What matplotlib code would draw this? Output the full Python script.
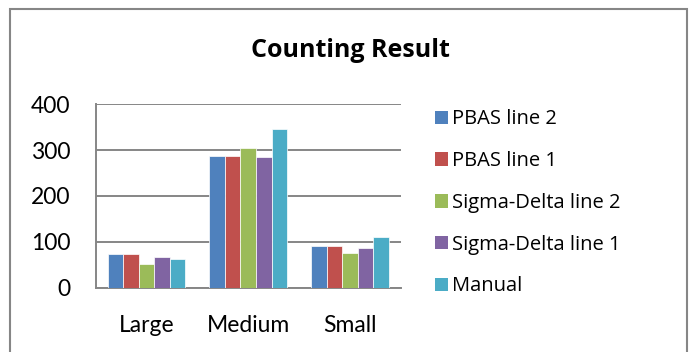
import matplotlib
matplotlib.use("Agg")
import matplotlib.pyplot as plt
import numpy as np
from matplotlib.patches import Rectangle, Patch

categories = ["Large", "Medium", "Small"]
series_names = ["PBAS line 2", "PBAS line 1", "Sigma-Delta line 2", "Sigma-Delta line 1", "Manual"]
pbas_line2 = [73, 288, 90]
pbas_line1 = [73, 288, 90]
sigma_line2 = [51, 305, 76]
sigma_line1 = [68, 286, 87]
manual = [62, 347, 110]
series_values = [pbas_line2, pbas_line1, sigma_line2, sigma_line1, manual]
colors = ["#4F81BD", "#C0504D", "#9BBB59", "#8064A2", "#4BACC6"]
y_ticks = [0, 100, 200, 300, 400]

fig = plt.figure(figsize=(6.92, 3.52), dpi=100)
ax = fig.add_axes([0.1383, 0.1827, 0.4408, 0.521])

x = np.arange(len(categories))
bw = 0.153
for i, (vals, c) in enumerate(zip(series_values, colors)):
    ax.bar(x + (i - 2) * bw, vals, width=bw, color=c, edgecolor="white", linewidth=0.5, zorder=3)

ax.set_xlim(-0.5, 2.5)
ax.set_ylim(0, 400)
ax.set_yticks(y_ticks)
ax.set_xticks(x)
ax.set_xticklabels(categories)
ax.grid(axis="y", color="#868686", linewidth=1.4, zorder=0)
for s in ["top", "right"]:
    ax.spines[s].set_visible(False)
for s in ["left", "bottom"]:
    ax.spines[s].set_color("#868686")
    ax.spines[s].set_linewidth(1.4)
ax.tick_params(axis="both", length=0, labelsize=16.5, colors="black")
ax.tick_params(axis="y", pad=18)
ax.tick_params(axis="x", pad=20)
for lab in ax.get_xticklabels() + ax.get_yticklabels():
    lab.set_fontfamily("Lato")

handles = [Patch(facecolor=c, edgecolor="none") for c in colors]
fig.legend(handles, series_names, loc="upper left", bbox_to_anchor=(0.617, 0.712),
           frameon=False, prop={"family": "Open Sans", "size": 14.5},
           handlelength=0.65, handleheight=0.65, handletextpad=0.2, labelspacing=1.08,
           borderaxespad=0)

fig.text(0.507, 0.857, "Counting Result", ha="center", va="center",
         fontsize=18, fontweight="bold", family="Open Sans")

fig.patches.append(Rectangle((10 / 692, -0.1), 677 / 692, 1.1 - 9 / 352,
                             transform=fig.transFigure, fill=False,
                             edgecolor="#868686", linewidth=1.5))

fig.savefig("out.png", dpi=100)
